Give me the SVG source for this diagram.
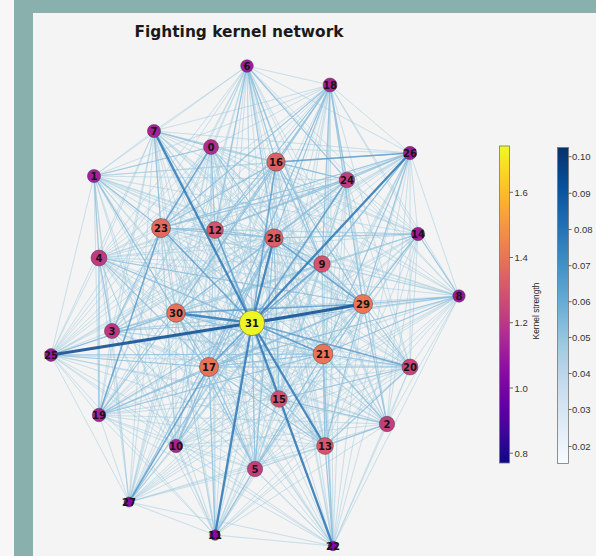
<svg xmlns="http://www.w3.org/2000/svg" width="596" height="556" viewBox="0 0 596 556">
<style>
.f{fill:none;stroke:#9ecae1;stroke-width:0.9;stroke-opacity:0.32;stroke-linejoin:round}
.m{fill:none;stroke:#76b1da;stroke-width:1.2;stroke-opacity:0.5;stroke-linecap:round}
.s1{fill:none;stroke:#4d93c9;stroke-width:1.6;stroke-opacity:0.7}
.s2{fill:none;stroke:#2f78b6;stroke-width:2.3;stroke-opacity:0.85}
.s3{fill:none;stroke:#1a5797;stroke-width:3.1;stroke-opacity:0.92}
.nd circle{stroke:#444;stroke-opacity:0.6;stroke-width:0.8}
.nd text{font-family:"DejaVu Sans",sans-serif;font-weight:bold;font-size:10px;fill:#151515;text-anchor:middle;dominant-baseline:central}
.tk{stroke:#444;stroke-width:0.8}
.tl{font-family:"Liberation Sans",Arial,sans-serif;font-size:9.5px;fill:#333;dominant-baseline:central}
</style>
<defs>
<linearGradient id="plasma" x1="0" y1="1" x2="0" y2="0">
<stop offset="0" stop-color="#0d0887"/><stop offset="0.1" stop-color="#41049d"/><stop offset="0.2" stop-color="#6a00a8"/><stop offset="0.3" stop-color="#8f0da4"/><stop offset="0.4" stop-color="#b12a90"/><stop offset="0.5" stop-color="#cc4778"/><stop offset="0.6" stop-color="#e16462"/><stop offset="0.7" stop-color="#f2844b"/><stop offset="0.8" stop-color="#fca636"/><stop offset="0.9" stop-color="#fcce25"/><stop offset="1" stop-color="#f0f921"/>
</linearGradient>
<linearGradient id="blues" x1="0" y1="1" x2="0" y2="0">
<stop offset="0" stop-color="#f7fbff"/><stop offset="0.125" stop-color="#deebf7"/><stop offset="0.25" stop-color="#c6dbef"/><stop offset="0.375" stop-color="#9ecae1"/><stop offset="0.5" stop-color="#6baed6"/><stop offset="0.625" stop-color="#4292c6"/><stop offset="0.75" stop-color="#2171b5"/><stop offset="0.875" stop-color="#08519c"/><stop offset="1" stop-color="#08306b"/>
</linearGradient>
</defs>
<rect width="596" height="556" fill="#f7f7f7"/>
<rect x="14" y="0" width="582" height="556" fill="#8ab0ae"/>
<rect x="33" y="13" width="563" height="543" fill="#f4f4f4"/>
<text x="239" y="37" font-family="DejaVu Sans, sans-serif" font-weight="bold" font-size="15.4" fill="#1a1a1a" text-anchor="middle">Fighting kernel network</text>
<g id="edges">
<g id="faint">
<path class="f" d="M211 147L94 176 211 147 387 424 211 147 112 331 211 147 99 258 211 147 255 469 211 147 247 66 211 147 154 131 211 147 459 296 211 147 322 264 211 147 176 446 211 147 215 535 211 147 215 230 211 147 325 446 211 147 418 234 211 147 279 399 211 147 276 162 211 147 209 367 211 147 330 85 211 147 99 415 211 147 410 367 211 147 323 354 211 147 333 546 211 147 161 228 211 147 347 180 211 147 51 355 211 147 410 153 211 147 129 502 211 147 274 238 211 147 363 304 211 147 176 313 211 147 252 323"/>
<path class="f" d="M94 176L387 424 94 176 112 331 94 176 99 258 94 176 255 469 94 176 247 66 94 176 154 131 94 176 459 296 94 176 322 264 94 176 176 446 94 176 215 535 94 176 215 230 94 176 325 446 94 176 418 234 94 176 279 399 94 176 276 162 94 176 209 367 94 176 330 85 94 176 99 415 94 176 410 367 94 176 323 354 94 176 333 546 94 176 161 228 94 176 347 180 94 176 51 355 94 176 410 153 94 176 129 502 94 176 274 238 94 176 363 304 94 176 176 313 94 176 252 323"/>
<path class="f" d="M387 424L112 331 387 424 99 258 387 424 255 469 387 424 247 66 387 424 154 131 387 424 459 296 387 424 322 264 387 424 176 446 387 424 215 535 387 424 215 230 387 424 325 446 387 424 418 234 387 424 279 399 387 424 276 162 387 424 209 367 387 424 330 85 387 424 99 415 387 424 410 367 387 424 323 354 387 424 333 546 387 424 161 228 387 424 347 180 387 424 51 355 387 424 410 153 387 424 129 502 387 424 274 238 387 424 363 304 387 424 176 313 387 424 252 323"/>
<path class="f" d="M112 331L99 258 112 331 255 469 112 331 247 66 112 331 154 131 112 331 459 296 112 331 322 264 112 331 176 446 112 331 215 535 112 331 215 230 112 331 325 446 112 331 418 234 112 331 279 399 112 331 276 162 112 331 209 367 112 331 330 85 112 331 99 415 112 331 410 367 112 331 323 354 112 331 333 546 112 331 161 228 112 331 347 180 112 331 51 355 112 331 410 153 112 331 129 502 112 331 274 238 112 331 363 304 112 331 176 313 112 331 252 323"/>
<path class="f" d="M99 258L255 469 99 258 247 66 99 258 154 131 99 258 459 296 99 258 322 264 99 258 176 446 99 258 215 535 99 258 215 230 99 258 325 446 99 258 418 234 99 258 279 399 99 258 276 162 99 258 209 367 99 258 330 85 99 258 99 415 99 258 410 367 99 258 323 354 99 258 333 546 99 258 161 228 99 258 347 180 99 258 51 355 99 258 410 153 99 258 129 502 99 258 274 238 99 258 363 304 99 258 176 313 99 258 252 323"/>
<path class="f" d="M255 469L247 66 255 469 154 131 255 469 459 296 255 469 322 264 255 469 176 446 255 469 215 535 255 469 215 230 255 469 325 446 255 469 418 234 255 469 279 399 255 469 276 162 255 469 209 367 255 469 330 85 255 469 99 415 255 469 410 367 255 469 323 354 255 469 333 546 255 469 161 228 255 469 347 180 255 469 51 355 255 469 410 153 255 469 129 502 255 469 274 238 255 469 363 304 255 469 176 313 255 469 252 323"/>
<path class="f" d="M247 66L154 131 247 66 459 296 247 66 322 264 247 66 176 446 247 66 215 535 247 66 215 230 247 66 325 446 247 66 418 234 247 66 279 399 247 66 276 162 247 66 209 367 247 66 330 85 247 66 99 415 247 66 410 367 247 66 323 354 247 66 333 546 247 66 161 228 247 66 347 180 247 66 51 355 247 66 410 153 247 66 129 502 247 66 274 238 247 66 363 304 247 66 176 313 247 66 252 323"/>
<path class="f" d="M154 131L459 296 154 131 322 264 154 131 176 446 154 131 215 535 154 131 215 230 154 131 325 446 154 131 418 234 154 131 279 399 154 131 276 162 154 131 209 367 154 131 330 85 154 131 99 415 154 131 410 367 154 131 323 354 154 131 333 546 154 131 161 228 154 131 347 180 154 131 51 355 154 131 410 153 154 131 129 502 154 131 274 238 154 131 363 304 154 131 176 313 154 131 252 323"/>
<path class="f" d="M459 296L322 264 459 296 176 446 459 296 215 535 459 296 215 230 459 296 325 446 459 296 418 234 459 296 279 399 459 296 276 162 459 296 209 367 459 296 330 85 459 296 99 415 459 296 410 367 459 296 323 354 459 296 333 546 459 296 161 228 459 296 347 180 459 296 51 355 459 296 410 153 459 296 129 502 459 296 274 238 459 296 363 304 459 296 176 313 459 296 252 323"/>
<path class="f" d="M322 264L176 446 322 264 215 535 322 264 215 230 322 264 325 446 322 264 418 234 322 264 279 399 322 264 276 162 322 264 209 367 322 264 330 85 322 264 99 415 322 264 410 367 322 264 323 354 322 264 333 546 322 264 161 228 322 264 347 180 322 264 51 355 322 264 410 153 322 264 129 502 322 264 274 238 322 264 363 304 322 264 176 313 322 264 252 323"/>
<path class="f" d="M176 446L215 535 176 446 215 230 176 446 325 446 176 446 418 234 176 446 279 399 176 446 276 162 176 446 209 367 176 446 330 85 176 446 99 415 176 446 410 367 176 446 323 354 176 446 333 546 176 446 161 228 176 446 347 180 176 446 51 355 176 446 410 153 176 446 129 502 176 446 274 238 176 446 363 304 176 446 176 313 176 446 252 323"/>
<path class="f" d="M215 535L215 230 215 535 325 446 215 535 418 234 215 535 279 399 215 535 276 162 215 535 209 367 215 535 330 85 215 535 99 415 215 535 410 367 215 535 323 354 215 535 333 546 215 535 161 228 215 535 347 180 215 535 51 355 215 535 410 153 215 535 129 502 215 535 274 238 215 535 363 304 215 535 176 313 215 535 252 323"/>
<path class="f" d="M215 230L325 446 215 230 418 234 215 230 279 399 215 230 276 162 215 230 209 367 215 230 330 85 215 230 99 415 215 230 410 367 215 230 323 354 215 230 333 546 215 230 161 228 215 230 347 180 215 230 51 355 215 230 410 153 215 230 129 502 215 230 274 238 215 230 363 304 215 230 176 313 215 230 252 323"/>
<path class="f" d="M325 446L418 234 325 446 279 399 325 446 276 162 325 446 209 367 325 446 330 85 325 446 99 415 325 446 410 367 325 446 323 354 325 446 333 546 325 446 161 228 325 446 347 180 325 446 51 355 325 446 410 153 325 446 129 502 325 446 274 238 325 446 363 304 325 446 176 313 325 446 252 323"/>
<path class="f" d="M418 234L279 399 418 234 276 162 418 234 209 367 418 234 330 85 418 234 99 415 418 234 410 367 418 234 323 354 418 234 333 546 418 234 161 228 418 234 347 180 418 234 51 355 418 234 410 153 418 234 129 502 418 234 274 238 418 234 363 304 418 234 176 313 418 234 252 323"/>
<path class="f" d="M279 399L276 162 279 399 209 367 279 399 330 85 279 399 99 415 279 399 410 367 279 399 323 354 279 399 333 546 279 399 161 228 279 399 347 180 279 399 51 355 279 399 410 153 279 399 129 502 279 399 274 238 279 399 363 304 279 399 176 313 279 399 252 323"/>
<path class="f" d="M276 162L209 367 276 162 330 85 276 162 99 415 276 162 410 367 276 162 323 354 276 162 333 546 276 162 161 228 276 162 347 180 276 162 51 355 276 162 410 153 276 162 129 502 276 162 274 238 276 162 363 304 276 162 176 313 276 162 252 323"/>
<path class="f" d="M209 367L330 85 209 367 99 415 209 367 410 367 209 367 323 354 209 367 333 546 209 367 161 228 209 367 347 180 209 367 51 355 209 367 410 153 209 367 129 502 209 367 274 238 209 367 363 304 209 367 176 313 209 367 252 323"/>
<path class="f" d="M330 85L99 415 330 85 410 367 330 85 323 354 330 85 333 546 330 85 161 228 330 85 347 180 330 85 51 355 330 85 410 153 330 85 129 502 330 85 274 238 330 85 363 304 330 85 176 313 330 85 252 323"/>
<path class="f" d="M99 415L410 367 99 415 323 354 99 415 333 546 99 415 161 228 99 415 347 180 99 415 51 355 99 415 410 153 99 415 129 502 99 415 274 238 99 415 363 304 99 415 176 313 99 415 252 323"/>
<path class="f" d="M410 367L323 354 410 367 333 546 410 367 161 228 410 367 347 180 410 367 51 355 410 367 410 153 410 367 129 502 410 367 274 238 410 367 363 304 410 367 176 313 410 367 252 323"/>
<path class="f" d="M323 354L333 546 323 354 161 228 323 354 347 180 323 354 51 355 323 354 410 153 323 354 129 502 323 354 274 238 323 354 363 304 323 354 176 313 323 354 252 323"/>
<path class="f" d="M333 546L161 228 333 546 347 180 333 546 51 355 333 546 410 153 333 546 129 502 333 546 274 238 333 546 363 304 333 546 176 313 333 546 252 323"/>
<path class="f" d="M161 228L347 180 161 228 51 355 161 228 410 153 161 228 129 502 161 228 274 238 161 228 363 304 161 228 176 313 161 228 252 323"/>
<path class="f" d="M347 180L51 355 347 180 410 153 347 180 129 502 347 180 274 238 347 180 363 304 347 180 176 313 347 180 252 323"/>
<path class="f" d="M51 355L410 153 51 355 129 502 51 355 274 238 51 355 363 304 51 355 176 313 51 355 252 323"/>
<path class="f" d="M410 153L129 502 410 153 274 238 410 153 363 304 410 153 176 313 410 153 252 323"/>
<path class="f" d="M129 502L274 238 129 502 363 304 129 502 176 313 129 502 252 323"/>
<path class="f" d="M274 238L363 304 274 238 176 313 274 238 252 323"/>
<path class="f" d="M363 304L176 313 363 304 252 323"/>
<path class="f" d="M176 313L252 323"/>
</g>
<path class="m" d="M94 176L211 147M94 176L99 258M94 176L176 313M94 176L161 228M211 147L274 238M161 228L276 162M161 228L215 230M161 228L347 180M161 228L410 153M161 228L274 238M99 258L209 367M99 258L252 323M99 258L323 354M99 258L363 304M99 258L112 331M99 258L99 415M215 230L274 238M215 230L276 162M247 66L215 230M247 66L276 162M247 66L274 238M247 66L322 264M247 66L347 180M330 85L276 162M330 85L161 228M330 85L215 230M330 85L274 238M330 85L176 313M330 85L209 367M330 85L347 180M330 85L322 264M330 85L363 304M410 153L347 180M410 153L363 304M410 153L322 264M410 153L323 354M410 153L215 230M347 180L276 162M347 180L176 313M347 180L215 230M347 180L274 238M276 162L363 304M276 162L322 264M276 162L176 313M418 234L459 296M418 234L363 304M418 234L323 354M418 234L274 238M274 238L322 264M274 238L176 313M176 313L51 355M176 313L112 331M112 331L161 228M112 331L252 323M51 355L209 367M51 355L323 354M99 415L209 367M99 415L252 323M99 415L323 354M99 415L363 304M99 415L176 313M176 446L209 367M176 446L274 238M176 446L252 323M129 502L252 323M129 502L274 238M215 535L209 367M215 535L323 354M255 469L252 323M255 469L209 367M255 469L176 313M255 469L274 238M255 469L363 304M363 304L459 296M363 304L410 367M363 304L323 354M363 304L387 424M363 304L325 446M363 304L209 367M323 354L410 367M323 354L325 446M323 354L387 424M323 354L209 367M323 354L176 313M410 367L325 446M410 367L209 367M410 367L279 399M387 424L279 399M387 424L325 446M325 446L279 399M325 446L209 367M333 546L323 354M333 546L325 446M459 296L323 354M459 296L252 323M459 296L209 367M322 264L209 367M322 264L363 304M209 367L176 313M209 367L274 238M279 399L176 313M279 399L274 238M154 131L161 228M154 131L215 230M154 131L211 147M211 147L215 230"/>
<path class="s1" d="M252 323L410 367M252 323L323 354M252 323L209 367M252 323L215 230M252 323L322 264M252 323L161 228M252 323L347 180M252 323L276 162M176 313L363 304M274 238L363 304M211 147L161 228M276 162L410 153M99 415L161 228M129 502L209 367"/>
<path class="s2" d="M252 323L176 313M252 323L215 535M252 323L274 238M252 323L325 446M252 323L333 546M252 323L154 131M252 323L410 153"/>
<path class="s3" d="M252 323L51 355M252 323L363 304"/>
</g>
<g class="nd">
<g id="n0"><circle cx="211" cy="147" r="7.5" fill="#b22b8f"/><text x="211" y="147">0</text></g>
<g id="n1"><circle cx="94" cy="176" r="6.6" fill="#a62098"/><text x="94" y="176">1</text></g>
<g id="n2"><circle cx="387" cy="424" r="7.7" fill="#c43e7f"/><text x="387" y="424">2</text></g>
<g id="n3"><circle cx="112" cy="331" r="7.6" fill="#bd3786"/><text x="112" y="331">3</text></g>
<g id="n4"><circle cx="99" cy="258" r="8" fill="#c03a83"/><text x="99" y="258">4</text></g>
<g id="n5"><circle cx="255" cy="469" r="7.7" fill="#c43e7f"/><text x="255" y="469">5</text></g>
<g id="n6"><circle cx="247" cy="66" r="6.3" fill="#a01a9c"/><text x="247" y="66">6</text></g>
<g id="n7"><circle cx="154" cy="131" r="6.6" fill="#a62098"/><text x="154" y="131">7</text></g>
<g id="n8"><circle cx="459" cy="296" r="6.2" fill="#9a169f"/><text x="459" y="296">8</text></g>
<g id="n9"><circle cx="322" cy="264" r="8.3" fill="#d5536f"/><text x="322" y="264">9</text></g>
<g id="n10"><circle cx="176" cy="446" r="6.7" fill="#a82296"/><text x="176" y="446">10</text></g>
<g id="n11"><circle cx="215" cy="535" r="5.3" fill="#8b0aa5"/><text x="215" y="535">11</text></g>
<g id="n12"><circle cx="215" cy="230" r="8.4" fill="#d6556d"/><text x="215" y="230">12</text></g>
<g id="n13"><circle cx="325" cy="446" r="8.4" fill="#d7566c"/><text x="325" y="446">13</text></g>
<g id="n14"><circle cx="418" cy="234" r="6.7" fill="#a01a9c"/><text x="418" y="234">14</text></g>
<g id="n15"><circle cx="279" cy="399" r="8.3" fill="#d24f71"/><text x="279" y="399">15</text></g>
<g id="n16"><circle cx="276" cy="162" r="9.2" fill="#dc5f66"/><text x="276" y="162">16</text></g>
<g id="n17"><circle cx="209" cy="367" r="9.6" fill="#e8715a"/><text x="209" y="367">17</text></g>
<g id="n18"><circle cx="330" cy="85" r="7" fill="#a82296"/><text x="330" y="85">18</text></g>
<g id="n19"><circle cx="99" cy="415" r="6.8" fill="#aa2395"/><text x="99" y="415">19</text></g>
<g id="n20"><circle cx="410" cy="367" r="8" fill="#c8437b"/><text x="410" y="367">20</text></g>
<g id="n21"><circle cx="323" cy="354" r="9.9" fill="#ea7457"/><text x="323" y="354">21</text></g>
<g id="n22"><circle cx="333" cy="546" r="4.8" fill="#8606a6"/><text x="333" y="546">22</text></g>
<g id="n23"><circle cx="161" cy="228" r="9.5" fill="#e4695e"/><text x="161" y="228">23</text></g>
<g id="n24"><circle cx="347" cy="180" r="7.8" fill="#c13b82"/><text x="347" y="180">24</text></g>
<g id="n25"><circle cx="51" cy="355" r="6.4" fill="#a01a9c"/><text x="51" y="355">25</text></g>
<g id="n26"><circle cx="410" cy="153" r="6.7" fill="#a01a9c"/><text x="410" y="153">26</text></g>
<g id="n27"><circle cx="129" cy="502" r="5" fill="#8b0aa5"/><text x="129" y="502">27</text></g>
<g id="n28"><circle cx="274" cy="238" r="9.2" fill="#dc5f66"/><text x="274" y="238">28</text></g>
<g id="n29"><circle cx="363" cy="304" r="9.6" fill="#eb7655"/><text x="363" y="304">29</text></g>
<g id="n30"><circle cx="176" cy="313" r="9.3" fill="#e8705c"/><text x="176" y="313">30</text></g>
<g id="n31"><circle cx="252" cy="323" r="12.6" fill="#eef527"/><text x="252" y="323">31</text></g>
</g>
<g id="cbar-nodes">
<rect x="499.5" y="146" width="10" height="317" fill="url(#plasma)" stroke="#777" stroke-width="0.8"/>
<path class="tk" d="M509.5 192.3h3.5M509.5 257.5h3.5M509.5 322.7h3.5M509.5 388h3.5M509.5 453.2h3.5"/>
<text class="tl" x="514.5" y="192.3">1.6</text>
<text class="tl" x="514.5" y="257.5">1.4</text>
<text class="tl" x="514.5" y="322.7">1.2</text>
<text class="tl" x="514.5" y="388">1.0</text>
<text class="tl" x="514.5" y="453.2">0.8</text>
<text x="539" y="311" transform="rotate(-90 539 311)" font-family="Liberation Sans, Arial, sans-serif" font-size="8.4" fill="#222" text-anchor="middle">Kernel strength</text>
</g>
<g id="cbar-edges">
<rect x="557.5" y="147.5" width="11" height="316" fill="url(#blues)" stroke="#777" stroke-width="0.8"/>
<path class="tk" d="M568.5 156.7h3M568.5 193.3h3M568.5 229.5h3M568.5 265.7h3M568.5 301.7h3M568.5 337.5h3M568.5 373.5h3M568.5 409.5h3M568.5 446.5h3"/>
<text class="tl" x="572" y="156.7">0.10</text>
<text class="tl" x="572" y="193.3">0.09</text>
<text class="tl" x="574" y="229.5">0.08</text>
<text class="tl" x="572" y="265.7">0.07</text>
<text class="tl" x="572" y="301.7">0.06</text>
<text class="tl" x="572" y="337.5">0.05</text>
<text class="tl" x="572" y="373.5">0.04</text>
<text class="tl" x="572" y="409.5">0.03</text>
<text class="tl" x="572" y="446.5">0.02</text>
</g>
</svg>
